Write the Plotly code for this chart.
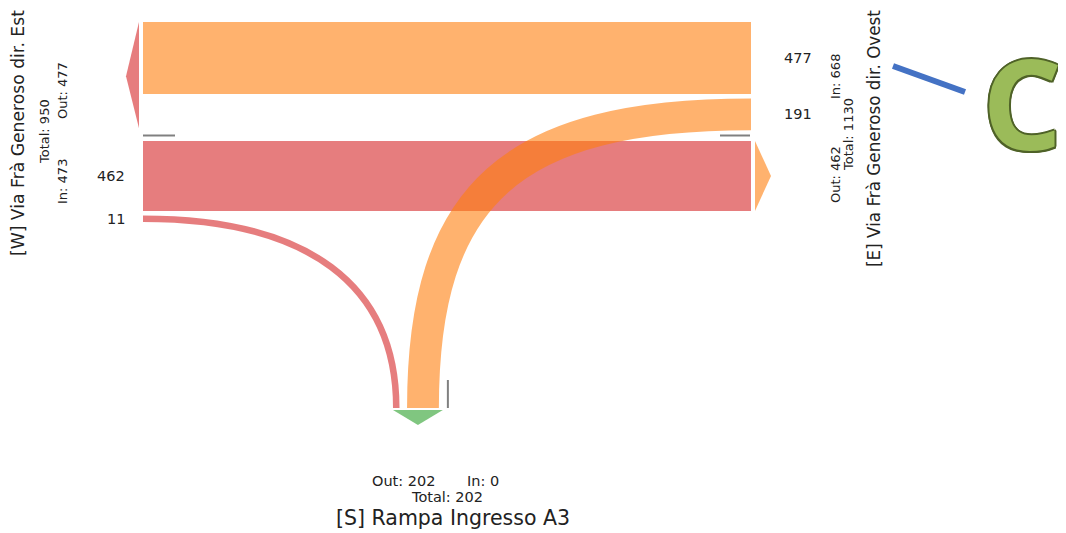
import plotly.graph_objects as go

# ---------------- data ----------------
node_ids = ["W", "E", "S"]
node_names = ["[W] Via Frà Generoso dir. Est",
              "[E] Via Frà Generoso dir. Ovest",
              "[S] Rampa Ingresso A3"]
flow_src = ["E", "W", "W", "E"]
flow_dst = ["W", "E", "S", "S"]
flow_val = [477, 462, 11, 191]

# ---------------- styles ----------------
node_rgb = {"W": (214, 39, 40), "E": (255, 127, 14), "S": (44, 160, 44)}
ALPHA = 0.6
GREY = "rgb(128,128,128)"
TXT = "#222222"
FONT = "DejaVu Sans"


def rgba(node, a=ALPHA):
    r, g, b = node_rgb[node]
    return f"rgba({r},{g},{b},{a})"


# ---------------- layout constants (pixels of the 1066x533 canvas) ----------------
W_PX, H_PX = 1066, 533
PAGE_MARGIN = 8          # default body margin of the html page
SCALE = 0.1405           # px per vehicle
EDGE = 5                 # extra band thickness (outline)
X_W, X_E = 143, 751      # west / east band ends
Y_TOP, Y_MID = 22, 141   # top of E->W stack, top of W->E stack
GAP = 4.5
X_S, Y_S = 393, 408      # south stack left edge / band end
GAP_S = 7.5
ARROW = 14
K_WS, K_ES = 0.65, 0.73  # curvature of the turning bands


def thick(v):
    return v * SCALE + EDGE


def fval(s, d):
    for a, b, v in zip(flow_src, flow_dst, flow_val):
        if a == s and b == d:
            return v
    return 0


v_ew, v_we, v_ws, v_es = fval("E", "W"), fval("W", "E"), fval("W", "S"), fval("E", "S")

# node in / out / total computed from the flows
node_in = {n: sum(v for s, v in zip(flow_src, flow_val) if s == n) for n in node_ids}
node_out = {n: sum(v for d, v in zip(flow_dst, flow_val) if d == n) for n in node_ids}
node_tot = {n: node_in[n] + node_out[n] for n in node_ids}

# stacking
ew_top = Y_TOP
ew_bot = ew_top + thick(v_ew)
es_top = ew_bot + GAP
es_bot = es_top + thick(v_es)
we_top = Y_MID
we_bot = we_top + thick(v_we)
ws_top = we_bot + GAP
ws_bot = ws_top + thick(v_ws)
ws_x0 = X_S
ws_x1 = ws_x0 + thick(v_ws)
es_x0 = ws_x1 + GAP_S
es_x1 = es_x0 + thick(v_es)

shapes = []

# straight bands
shapes.append(dict(type="rect", xref="x", yref="y", x0=X_W, x1=X_E, y0=ew_top, y1=ew_bot,
                   fillcolor=rgba("E"), line=dict(width=0), layer="above"))
shapes.append(dict(type="rect", xref="x", yref="y", x0=X_W, x1=X_E, y0=we_top, y1=we_bot,
                   fillcolor=rgba("W"), line=dict(width=0), layer="above"))


# turning bands (stroked cubic Beziers)
def turn_path(x0, y0, x1, y1, k):
    c1x = x0 + k * (x1 - x0)
    c2y = y1 - k * (y1 - y0)
    return f"M {x0},{y0} C {c1x},{y0} {x1},{c2y} {x1},{y1}"


ws_ym = (ws_top + ws_bot) / 2
ws_xm = (ws_x0 + ws_x1) / 2
shapes.append(dict(type="path", xref="x", yref="y",
                   path=turn_path(X_W, ws_ym, ws_xm, Y_S, K_WS),
                   line=dict(color=rgba("W"), width=thick(v_ws)), layer="above"))
es_ym = (es_top + es_bot) / 2
es_xm = (es_x0 + es_x1) / 2
shapes.append(dict(type="path", xref="x", yref="y",
                   path=turn_path(X_E, es_ym, es_xm, Y_S, K_ES),
                   line=dict(color=rgba("E"), width=thick(v_es)), layer="above"))

# zero-flow markers (grey)
y_grey = we_top - 5.5
shapes.append(dict(type="line", xref="x", yref="y", x0=X_W, x1=X_W + 32, y0=y_grey, y1=y_grey,
                   line=dict(color=GREY, width=2)))
shapes.append(dict(type="line", xref="x", yref="y", x0=X_E - 31, x1=X_E - 1, y0=y_grey, y1=y_grey,
                   line=dict(color=GREY, width=2)))
x_grey = es_x1 + 9
shapes.append(dict(type="line", xref="x", yref="y", x0=x_grey, x1=x_grey, y0=Y_S - 28, y1=Y_S,
                   line=dict(color=GREY, width=2)))

# node arrows
bx = X_W - 4
shapes.append(dict(type="path", xref="x", yref="y",
                   path=f"M {bx},{ew_top} L {bx - ARROW + 1},{(ew_top + es_bot) / 2} L {bx},{es_bot - 2} Z",
                   fillcolor=rgba("W"), line=dict(width=0)))
bx = X_E + 4
shapes.append(dict(type="path", xref="x", yref="y",
                   path=f"M {bx},{we_top} L {bx + ARROW + 2},{(we_top + we_bot) / 2} L {bx},{we_bot} Z",
                   fillcolor=rgba("E"), line=dict(width=0)))
by = Y_S + 2
sx1 = es_x1 + 4
shapes.append(dict(type="path", xref="x", yref="y",
                   path=f"M {X_S},{by} L {(X_S + sx1) / 2},{by + ARROW + 1} L {sx1},{by} Z",
                   fillcolor=rgba("S"), line=dict(width=0)))

# decoration: blue pointer line
shapes.append(dict(type="line", xref="x", yref="y", x0=893, y0=66, x1=965, y1=92,
                   line=dict(color="#4472C4", width=6)))

ann = []


def txt(x, y, s, size, angle=0, xanchor="center"):
    ann.append(dict(x=x, y=y, xref="x", yref="y", text=s, showarrow=False, textangle=angle,
                    xanchor=xanchor, yanchor="middle",
                    font=dict(family=FONT, size=size, color=TXT)))


# flow values at the source side
txt(X_W - 16, (we_top + we_bot) / 2, str(v_we), 14.5, xanchor="right")
txt(X_W - 16, ws_ym, str(v_ws), 14.5, xanchor="right")
txt(X_E + 31, (ew_top + ew_bot) / 2, str(v_ew), 14.5, xanchor="left")
txt(X_E + 31, es_ym, str(v_es), 14.5, xanchor="left")

# W block
txt(18, 133, node_names[0], 17.2, -90)
txt(44, 132, f"Total: {node_tot['W']}", 13, -90)
txt(62, 91, f"Out: {node_out['W']}", 13, -90)
txt(62, 182, f"In: {node_in['W']}", 13, -90)
# E block
txt(835, 77, f"In: {node_in['E']}", 13, -90)
txt(835, 175, f"Out: {node_out['E']}", 13, -90)
txt(848, 135, f"Total: {node_tot['E']}", 13, -90)
txt(874, 139, node_names[1], 16.8, -90)
# S block
txt(403, 481, f"Out: {node_out['S']}", 14.5)
txt(483, 481, f"In: {node_in['S']}", 14.5)
txt(447, 497, f"Total: {node_tot['S']}", 14.5)
txt(453, 518, node_names[2], 20.5)

# decoration: big green letter
oc = "#4F6228"
shadow = ", ".join(f"{dx}px {dy}px 0 {oc}" for dx, dy in
                   [(2, 0), (-2, 0), (0, 2), (0, -2), (1.5, 1.5), (-1.5, -1.5), (1.5, -1.5), (-1.5, 1.5)])
ann.append(dict(x=1063, y=101, xref="x", yref="y", text="C", showarrow=False,
                xanchor="right", yanchor="middle", borderpad=0,
                font=dict(family="Open Sans", size=126, color="#9BBB59", weight=700, shadow=shadow)))

fig = go.Figure()
fig.add_trace(go.Scatter(x=[PAGE_MARGIN, W_PX], y=[PAGE_MARGIN, H_PX], mode="markers",
                         marker=dict(opacity=0), hoverinfo="skip", showlegend=False))
fig.update_layout(
    width=W_PX - PAGE_MARGIN, height=H_PX - PAGE_MARGIN, margin=dict(l=0, r=0, t=0, b=0),
    paper_bgcolor="white", plot_bgcolor="white",
    xaxis=dict(range=[PAGE_MARGIN, W_PX], visible=False, fixedrange=True),
    yaxis=dict(range=[H_PX, PAGE_MARGIN], visible=False, fixedrange=True),
    shapes=shapes, annotations=ann, showlegend=False,
)
fig.write_html("out.html")
